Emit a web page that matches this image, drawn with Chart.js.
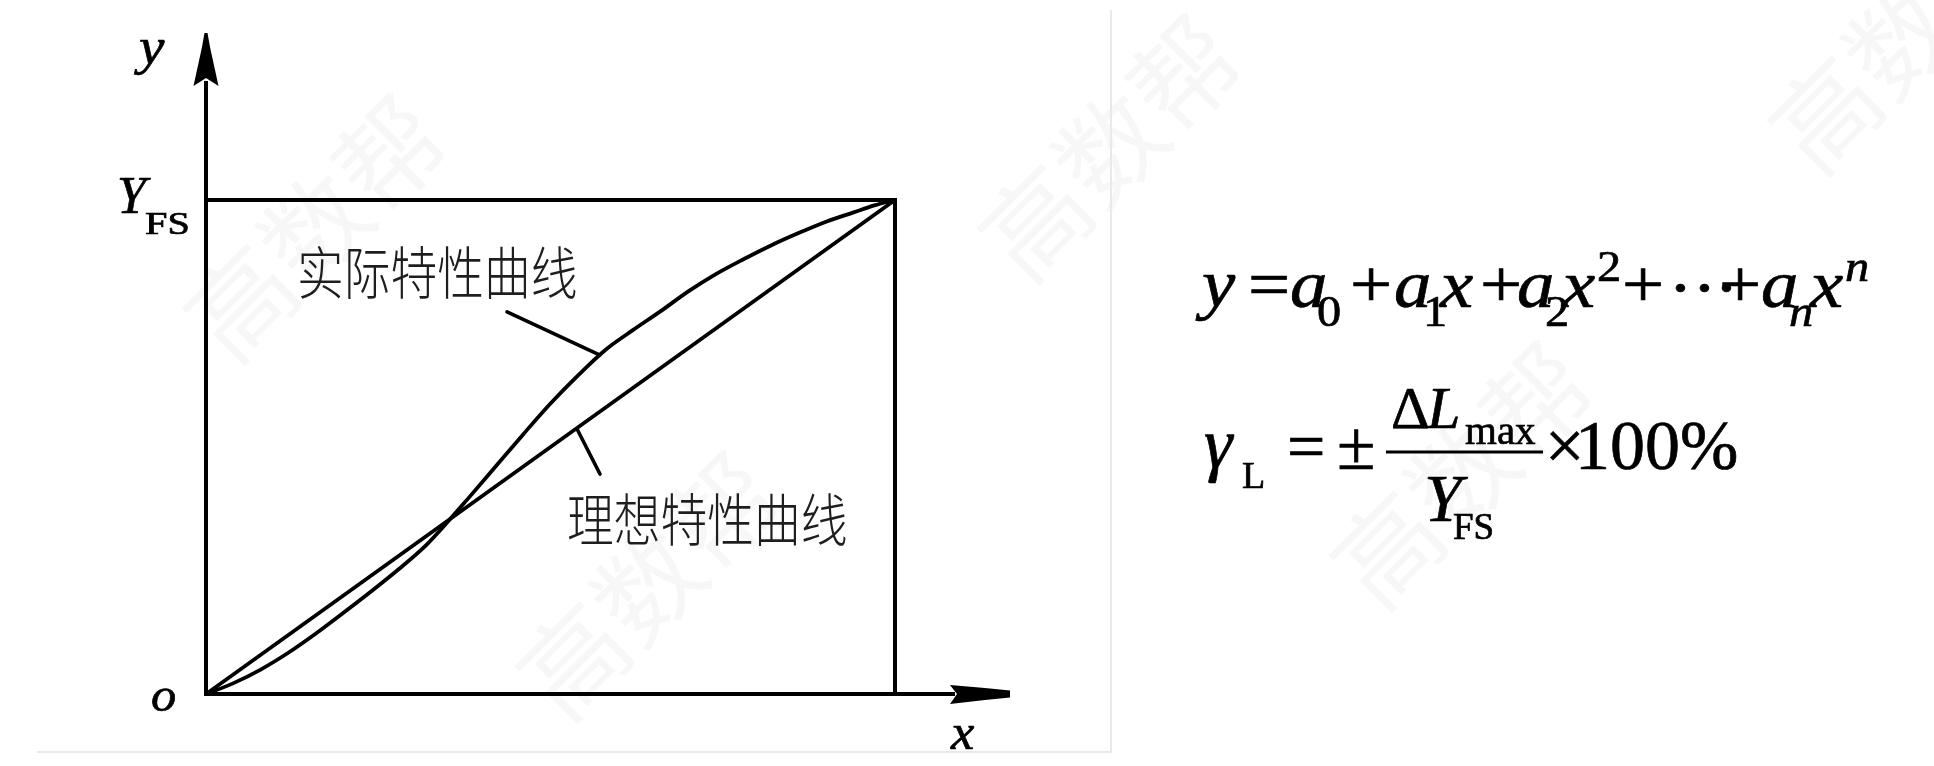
<!DOCTYPE html>
<html><head><meta charset="utf-8">
<script src="https://cdn.jsdelivr.net/npm/chart.js@4/dist/chart.umd.min.js"></script>
<style>html,body{margin:0;padding:0;background:#fff;overflow:hidden}#wrap{position:relative;width:1934px;height:766px}</style>
</head><body><div id="wrap"><canvas id="c" width="1934" height="766"></canvas></div>
<script>
// Input as fraction of full scale (x) and output as fraction of Y_FS (y)
const idealX = [0, 1];
const idealY = [0, 1];
const actualX = [0, 0.04, 0.08, 0.12, 0.16, 0.20, 0.24, 0.28, 0.32, 0.348, 0.38, 0.42, 0.46, 0.50, 0.54, 0.58, 0.62, 0.66, 0.70, 0.74, 0.78, 0.82, 0.86, 0.90, 0.94, 0.97, 1];
const actualY = [0, 0.022, 0.050, 0.084, 0.123, 0.165, 0.208, 0.253, 0.302, 0.344, 0.395, 0.460, 0.525, 0.588, 0.645, 0.697, 0.737, 0.775, 0.815, 0.850, 0.880, 0.908, 0.933, 0.956, 0.975, 0.989, 1];
const frameX = [0, 1, 1];
const frameY = [1, 1, 0];
const curveLabels = ['实际特性曲线', '理想特性曲线'];
const axisNames = ['x', 'y', 'o'];
const fullScaleLabel = ['Y', 'FS'];
const watermark = '高数帮';

const XMAX = (1010 - 206) / 689;
const YMAX = (694 - 33) / 494;

function pts(xs, ys) { return xs.map((x, i) => ({x: x, y: ys[i]})); }

const SERIF = '"Liberation Serif", "Times New Roman", serif';
function tok(ctx, t, x, y, size, italic, sx) {
  ctx.save();
  ctx.translate(x, y);
  ctx.scale(sx || 1, 1);
  ctx.font = (italic ? 'italic ' : '') + size + 'px ' + SERIF;
  ctx.textBaseline = 'alphabetic';
  ctx.textAlign = 'left';
  ctx.fillStyle = '#000';
  ctx.strokeStyle = '#000';
  ctx.lineWidth = 0.7;
  ctx.fillText(t, 0, 0);
  ctx.strokeText(t, 0, 0);
  ctx.restore();
}

const deco = {
  id: 'deco',
  beforeDraw(chart) {
    const ctx = chart.ctx;
    ctx.save();
    ctx.fillStyle = '#fff';
    ctx.fillRect(0, 0, chart.width, chart.height);
    // watermarks
    ctx.fillStyle = 'rgba(0,0,0,0.03)';
    ctx.font = '105px "Noto Sans CJK SC"';
    ctx.textAlign = 'center';
    ctx.textBaseline = 'middle';
    [[315, 228], [1110, 148], [648, 586], [1462, 475], [1900, 40]].forEach(p => {
      ctx.save(); ctx.translate(p[0], p[1]); ctx.rotate(-45 * Math.PI / 180);
      ctx.fillText(watermark, 0, 0); ctx.restore();
    });
    // faint panel frame
    ctx.strokeStyle = '#e9e9e9';
    ctx.lineWidth = 2;
    ctx.beginPath();
    ctx.moveTo(37, 752); ctx.lineTo(1111, 752); ctx.lineTo(1111, 10);
    ctx.stroke();
    ctx.restore();
  },
  afterDraw(chart) {
    const ctx = chart.ctx;
    const xs = chart.scales.x, ys = chart.scales.y;
    const px = v => xs.getPixelForValue(v), py = v => ys.getPixelForValue(v);
    const x0 = px(0), y0 = py(0), xe = px(XMAX), ye = py(YMAX);
    ctx.save();
    ctx.strokeStyle = '#000';
    ctx.fillStyle = '#000';
    ctx.lineWidth = 4;
    ctx.lineCap = 'butt';
    // axes
    ctx.beginPath();
    ctx.moveTo(x0 - 2, y0); ctx.lineTo(xe - 55, y0);
    ctx.moveTo(x0, y0 + 2); ctx.lineTo(x0, ye + 48);
    ctx.stroke();
    // y arrow
    ctx.beginPath();
    ctx.moveTo(x0 - 1.5, ye);
    ctx.lineTo(x0 + 1.5, ye);
    ctx.lineTo(x0 + 4, ye + 14);
    ctx.lineTo(x0 + 12.5, ye + 53);
    ctx.lineTo(x0, ye + 45);
    ctx.lineTo(x0 - 12.5, ye + 53);
    ctx.lineTo(x0 - 4, ye + 14);
    ctx.closePath(); ctx.fill();
    // x arrow
    ctx.beginPath();
    ctx.moveTo(xe, y0 - 3.5);
    ctx.lineTo(xe, y0 + 3.5);
    ctx.lineTo(xe - 25, y0 + 6);
    ctx.lineTo(xe - 60, y0 + 10);
    ctx.lineTo(xe - 53, y0);
    ctx.lineTo(xe - 60, y0 - 9);
    ctx.lineTo(xe - 25, y0 - 6);
    ctx.closePath(); ctx.fill();
    // leader lines
    ctx.lineWidth = 3.6;
    ctx.lineCap = 'round';
    ctx.beginPath();
    ctx.moveTo(px(0.4369), py(0.7733)); ctx.lineTo(px(0.5718), py(0.6862));
    ctx.moveTo(px(0.5385), py(0.5364)); ctx.lineTo(px(0.5718), py(0.4453));
    ctx.stroke();
    ctx.restore();

    // axis labels
    tok(ctx, axisNames[1], 139, 64, 52, true, 1.1);
    tok(ctx, axisNames[2], 151, 711, 48, true, 1.05);
    tok(ctx, axisNames[0], 951, 749, 50, true, 1.05);
    tok(ctx, fullScaleLabel[0], 117, 213, 52, true, 1.0);
    tok(ctx, fullScaleLabel[1], 145, 234, 31, false, 1.3);

    // curve labels
    ctx.save();
    ctx.fillStyle = '#1e1e1e';
    ctx.font = '300 57px "Noto Sans CJK SC"';
    ctx.textBaseline = 'middle';
    ctx.textAlign = 'left';
    [[curveLabels[0], 297, 272], [curveLabels[1], 567, 519]].forEach(l => {
      ctx.save(); ctx.translate(l[1], l[2]); ctx.scale(0.82, 1);
      ctx.fillText(l[0], 0, 0); ctx.restore();
    });
    ctx.restore();

    // formula 1
    const B = 307, SUB = 326, SUP = 281, S1 = 1.1;
    [['y',1202,B,68,1],['=',1248,B,68,0],['a',1290,B,68,1],['0',1317,SUB,44,0],
     ['+',1350,B,68,0],['a',1394,B,68,1],['1',1423,SUB,44,0],['x',1440,B,68,1],
     ['+',1480,B,68,0],['a',1517,B,68,1],['2',1545,SUB,44,0],['x',1562,B,68,1],
     ['2',1597,SUP,44,0],['+',1622,B,68,0],['·',1668,B+3,68,0],['·',1692,B+3,68,0],['·',1714,B+3,68,0],
     ['+',1719,B,68,0],['a',1761,B,68,1],['n',1789,SUB,44,1],['x',1810,B,68,1],['n',1845,SUP,44,1]
    ].forEach(t => tok(ctx, t[0], t[1], t[2], t[3], !!t[4], S1));

    // formula 2
    [['γ',1204,468,72,1],['L',1242,488,38,0],['=',1287,469,68,0],['±',1337,469,70,0],
     ['Δ',1391,428,60,0],['L',1427,428,60,1],['max',1465,444,41,0],
     ['Y',1424,521,68,1],['FS',1453,539,37,0],['×',1545,469,70,0],['100%',1575,469,70,0]
    ].forEach(t => tok(ctx, t[0], t[1], t[2], t[3], !!t[4], 1));
    ctx.save();
    ctx.strokeStyle = '#000'; ctx.lineWidth = 3.2;
    ctx.beginPath(); ctx.moveTo(1386, 452); ctx.lineTo(1543, 452); ctx.stroke();
    ctx.restore();
  }
};

new Chart(document.getElementById('c'), {
  type: 'scatter',
  data: {
    datasets: [
      {label: 'frame', data: pts(frameX, frameY), showLine: true, borderColor: '#000', borderWidth: 4, pointRadius: 0, tension: 0, fill: false, borderJoinStyle: 'miter'},
      {label: 'ideal', data: pts(idealX, idealY), showLine: true, borderColor: '#000', borderWidth: 3.8, pointRadius: 0, tension: 0, fill: false},
      {label: 'actual', data: pts(actualX, actualY), showLine: true, borderColor: '#000', borderWidth: 3.8, pointRadius: 0, cubicInterpolationMode: 'monotone', fill: false}
    ]
  },
  options: {
    responsive: false,
    animation: false,
    devicePixelRatio: 1,
    layout: {padding: {left: 206, right: 1934 - 1010, top: 33, bottom: 766 - 694}},
    plugins: {legend: {display: false}, tooltip: {enabled: false}, title: {display: false}},
    scales: {
      x: {type: 'linear', min: 0, max: XMAX, display: false},
      y: {type: 'linear', min: 0, max: YMAX, display: false}
    }
  },
  plugins: [deco]
});
</script>
</body></html>
